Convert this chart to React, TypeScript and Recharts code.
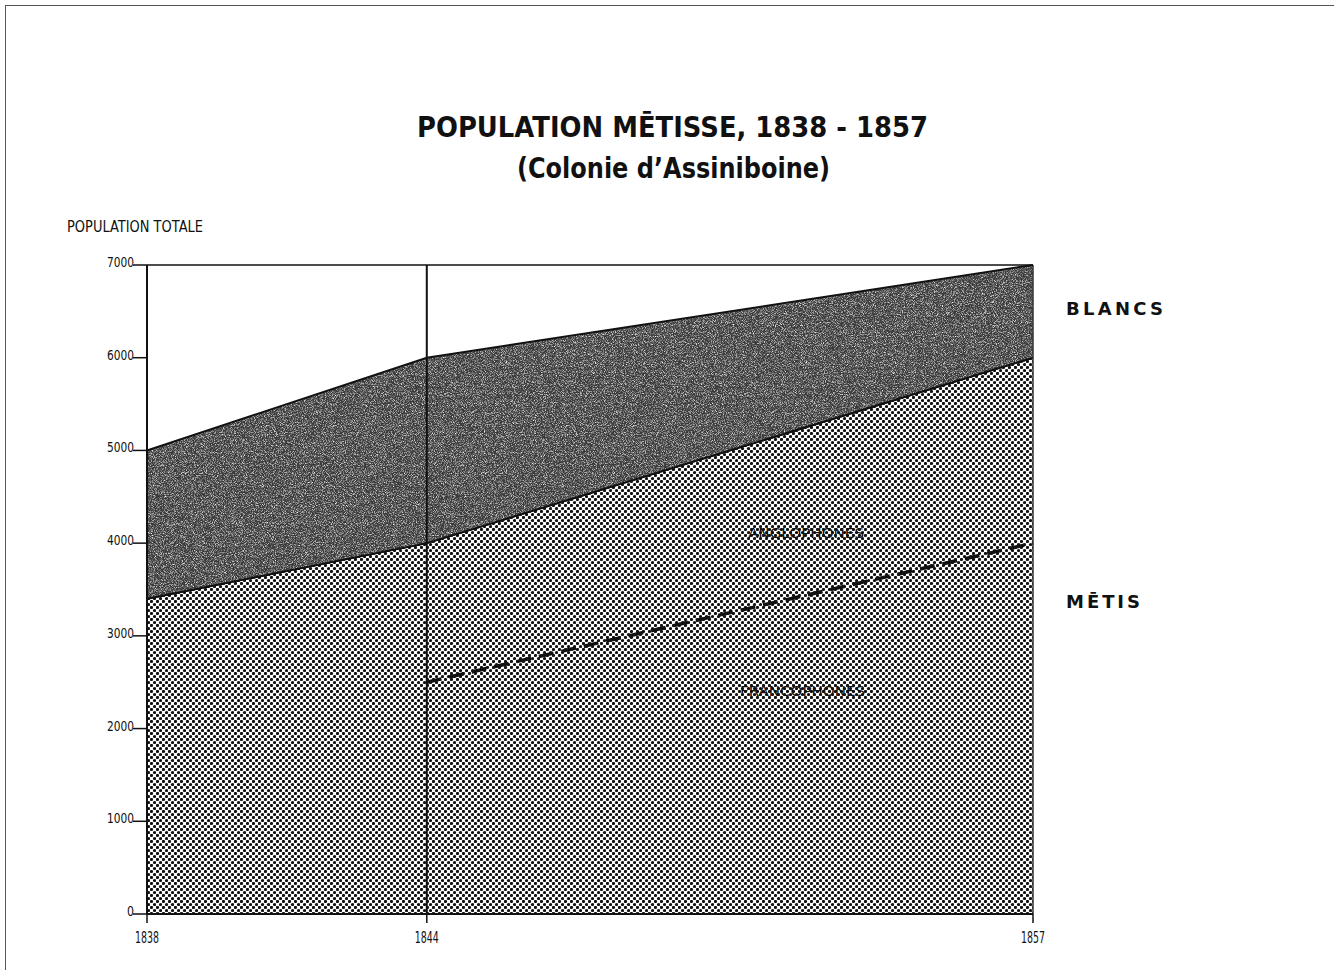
import { ComposedChart, Area, Line, XAxis, YAxis, ReferenceLine } from 'recharts';

// données (Colonie d'Assiniboine)
const years = [1838, 1844, 1857];
const populationTotale = [5000, 6000, 7000];
const populationMetis = [3400, 4000, 6000];
const francophones = [null, 2500, 4000];
const yTicks = [0, 1000, 2000, 3000, 4000, 5000, 6000, 7000];

const data = years.map((year, i) => ({
  year,
  totale: populationTotale[i],
  metis: populationMetis[i],
  blancs: [populationMetis[i], populationTotale[i]],
  francophones: francophones[i]
}));

const FONT = '"DejaVu Sans", "Liberation Sans", sans-serif';

// texte condensé : pas de police étroite installée, on serre avec textLength
const Txt = ({ x, y, w, size, bold = false, anchor = 'start', spread = false, children }: any) => (
  <text
    x={x}
    y={y}
    fontSize={size}
    fontWeight={bold ? 700 : 400}
    fontFamily={FONT}
    fill="#111"
    textAnchor={anchor}
    textLength={w}
    lengthAdjust={spread ? 'spacing' : 'spacingAndGlyphs'}
  >
    {children}
  </text>
);

const YTick = (props: any) => {
  const { x, y, payload } = props;
  return (
    <g>
      <line x1={x - 14} x2={x} y1={y} y2={y} stroke="#111" strokeWidth={1.5} />
      <Txt x={x - 13} y={y + 2} w={payload.value === 0 ? 7 : 27} size={14} anchor="end">
        {payload.value}
      </Txt>
    </g>
  );
};

const XTick = (props: any) => {
  const { x, y, payload } = props;
  return (
    <Txt x={x} y={y + 20} w={24} size={16} anchor="middle">
      {payload.value}
    </Txt>
  );
};

export default function App() {
  return (
    <div style={{ position: 'absolute', left: 0, top: 0, width: 1334, height: 970, background: '#fff' }}>
      <div
        style={{
          position: 'absolute',
          left: 5,
          top: 5,
          width: 1329,
          height: 965,
          borderTop: '1px solid #555',
          borderLeft: '1px solid #555'
        }}
      />
      <ComposedChart
        width={1334}
        height={970}
        data={data}
        margin={{ top: 265, right: 301, bottom: 16, left: 67 }}
      >
        <defs>
          <pattern id="dots" patternUnits="userSpaceOnUse" width={6} height={6}>
            <rect width={6} height={6} fill="#fff" />
            <circle cx={1.5} cy={1.5} r={1.6} fill="#111" />
            <circle cx={4.5} cy={4.5} r={1.6} fill="#111" />
          </pattern>
          <filter id="grain" x="0" y="0" width="100%" height="100%">
            <feTurbulence type="fractalNoise" baseFrequency="1.1" numOctaves={3} seed={7} result="n" />
            <feColorMatrix
              in="n"
              type="matrix"
              values="0 0 0 0 1  0 0 0 0 1  0 0 0 0 1  2.2 0 0 0 -0.95"
            />
          </filter>
          <pattern id="dark" patternUnits="userSpaceOnUse" width={300} height={300}>
            <rect width={300} height={300} fill="#3a3a3a" />
            <rect width={300} height={300} filter="url(#grain)" />
          </pattern>
        </defs>
        <XAxis
          dataKey="year"
          type="number"
          domain={[1838, 1857]}
          ticks={years}
          height={40}
          tickSize={9}
          tickMargin={0}
          tick={<XTick />}
          tickLine={{ stroke: '#111', strokeWidth: 1.5 }}
          axisLine={{ stroke: '#111', strokeWidth: 2 }}
        />
        <YAxis
          type="number"
          domain={[0, 7000]}
          ticks={yTicks}
          width={80}
          tickSize={0}
          tickMargin={0}
          tick={<YTick />}
          tickLine={false}
          axisLine={{ stroke: '#111', strokeWidth: 2 }}
        />
        <Area
          dataKey="metis"
          type="linear"
          fill="url(#dots)"
          fillOpacity={1}
          stroke="#111"
          strokeWidth={2}
          isAnimationActive={false}
        />
        <Area
          dataKey="blancs"
          type="linear"
          fill="url(#dark)"
          fillOpacity={1}
          stroke="#111"
          strokeWidth={2}
          isAnimationActive={false}
        />
        <Line
          dataKey="francophones"
          type="linear"
          stroke="#111"
          strokeWidth={3.5}
          strokeDasharray="15 8"
          dot={false}
          connectNulls={false}
          isAnimationActive={false}
        />
        <ReferenceLine x={1844} stroke="#111" strokeWidth={2} />
        <ReferenceLine x={1857} stroke="#333" strokeWidth={1.5} />
        <ReferenceLine y={7000} stroke="#111" strokeWidth={1.5} />
      </ComposedChart>
      <svg
        width={1334}
        height={970}
        style={{ position: 'absolute', left: 0, top: 0, pointerEvents: 'none' }}
      >
        <Txt x={417} y={137} w={511} size={28} bold>POPULATION MĒTISSE, 1838 - 1857</Txt>
        <Txt x={517} y={178} w={313} size={28} bold>(Colonie d’Assiniboine)</Txt>
        <Txt x={67} y={232} w={136} size={15}>POPULATION  TOTALE</Txt>
        <Txt x={1066} y={315} w={97} size={18} bold spread>BLANCS</Txt>
        <Txt x={1066} y={608} w={74} size={18} bold spread>MĒTIS</Txt>
        <Txt x={748} y={538} w={116} size={14}>ANGLOPHONES</Txt>
        <Txt x={740} y={696} w={125} size={14}>FRANCOPHONES</Txt>
      </svg>
    </div>
  );
}
